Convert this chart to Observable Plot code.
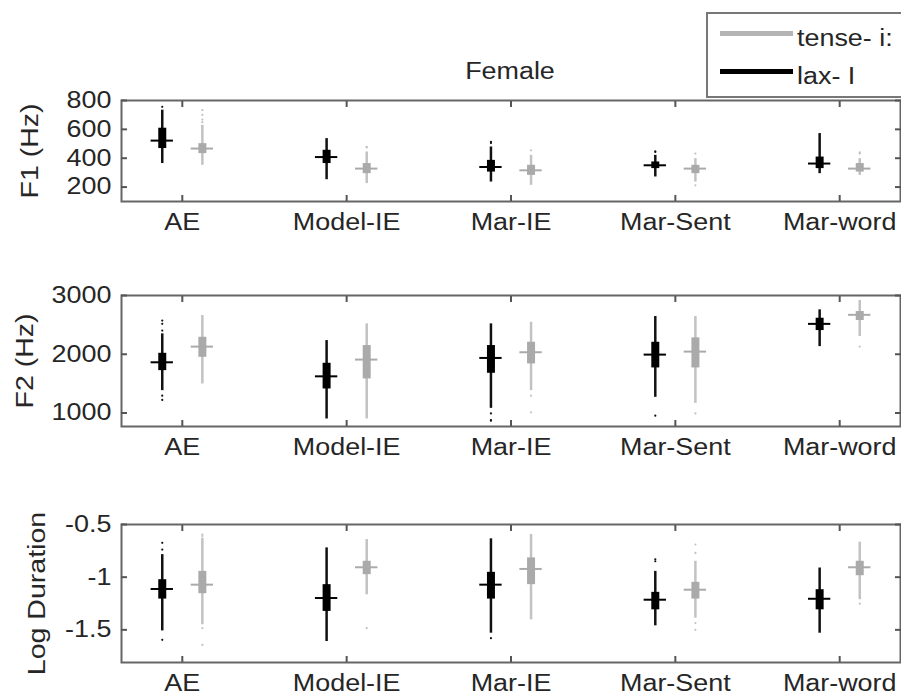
<!DOCTYPE html>
<html><head><meta charset="utf-8">
<script src="https://cdn.jsdelivr.net/npm/d3@7"></script>
<script src="https://cdn.jsdelivr.net/npm/@observablehq/plot@0.6"></script>
<style>
body{margin:0;background:#fff;}
#chart{position:relative;width:901px;height:698px;font-family:"Liberation Sans",Arial,sans-serif;}
#chart svg{position:absolute;left:0;}
</style></head><body><div id="chart"></div>
<script>
// ---- data ----
const groups = ["AE", "Model-IE", "Mar-IE", "Mar-Sent", "Mar-word"];
const seriesNames = ["tense- i:", "lax- I"];
const title = "Female";
const yLabels = ["F1 (Hz)", "F2 (Hz)", "Log Duration"];
const f1Ticks = [200, 400, 600, 800];
const f2Ticks = [1000, 2000, 3000];
const durTicks = [-1.5, -1, -0.5];
// each row: [lower whisker, q1, median, q3, upper whisker] per group
const f1Lax   = [[363,467,522,608,733],[251,363,408,455,536],[235,304,339,385,478],[270,328,351,374,420],[293,328,363,408,571]];
const f1Tense = [[351,432,467,501,628],[224,293,328,363,443],[212,281,316,351,420],[235,293,328,351,397],[281,304,328,363,397]];
// outliers: [group number, value]
const f1LaxOut   = [[1,756],[3,513],[3,505],[4,443],[4,448]];
const f1TenseOut = [[1,733],[1,700],[1,668],[1,650],[2,478],[2,475],[3,455],[4,432],[4,212],[5,432],[5,440]];
const f2Lax   = [[1380,1721,1863,2016,2347],[898,1409,1624,1846,2233],[1079,1676,1937,2148,2517],[1267,1767,1994,2204,2642],[2130,2403,2517,2613,2756]];
const f2Tense = [[1494,1948,2130,2289,2659],[898,1580,1909,2148,2517],[1380,1835,2034,2204,2545],[1164,1767,2045,2279,2642],[2301,2574,2671,2727,2915]];
const f2LaxOut   = [[1,2574],[1,2517],[1,2403],[1,1295],[1,1222],[3,993],[3,869],[3,880],[4,954]];
const f2TenseOut = [[3,1295],[3,1011],[4,993],[5,2130]];
const durLax   = [[-1.51,-1.208,-1.112,-1.024,-0.786],[-1.611,-1.325,-1.198,-1.071,-0.722],[-1.532,-1.208,-1.071,-0.954,-0.636],[-1.462,-1.31,-1.214,-1.144,-0.945],[-1.532,-1.31,-1.205,-1.119,-0.913]];
const durTense = [[-1.452,-1.157,-1.071,-0.945,-0.63],[-1.167,-0.976,-0.906,-0.849,-0.643],[-1.405,-1.071,-0.922,-0.817,-0.595],[-1.389,-1.208,-1.119,-1.049,-0.849],[-1.214,-0.986,-0.906,-0.849,-0.668]];
const durLaxOut   = [[1,-0.674],[1,-0.738],[1,-1.595],[3,-1.579],[4,-0.849],[4,-0.83]];
const durTenseOut = [[1,-0.595],[1,-0.61],[1,-1.484],[1,-1.643],[2,-1.484],[4,-0.69],[4,-0.77],[4,-1.436],[4,-1.5],[5,-1.252]];

// ---- styling ----
const FONT = '"Liberation Sans", Arial, sans-serif';
const TEXT = "#262626";
const STRETCH = 1.17;
const STRETCH_ROT = 1.24;
const offset = {"lax- I": -0.122, "tense- i:": 0.122};
const boxColor = {"lax- I": "#000000", "tense- i:": "#aaaaaa"};
const whiskColor = {"lax- I": "#111111", "tense- i:": "#c2c2c2"};

const toRows = (stats, series) => stats.map((s, i) => ({g: i + 1, series, lo: s[0], q1: s[1], med: s[2], q3: s[3], hi: s[4]}));
const outRows = (list, series) => list.map(([g, v]) => ({g, series, v}));
const px = d => d.g + offset[d.series];

function panel({lax, tense, laxOut, tenseOut, domain, ticks, label, labelDx, top, height, marginTop, marginBottom}) {
  const rows = [...toRows(tense, seriesNames[0]), ...toRows(lax, seriesNames[1])];
  const outs = [...outRows(tenseOut, seriesNames[0]), ...outRows(laxOut, seriesNames[1])];
  const gticks = groups.map((_, i) => i + 1);
  const svg = Plot.plot({
    width: 901, height, marginLeft: 121, marginRight: 1, marginTop, marginBottom,
    style: {fontFamily: FONT, fontSize: "23px", color: TEXT, background: "white", overflow: "visible"},
    x: {type: "linear", domain: [0.63, 5.37]},
    y: {domain},
    color: {type: "identity"},
    marks: [
      Plot.ruleX(rows, {x: px, y1: "lo", y2: "hi", stroke: d => whiskColor[d.series], strokeWidth: 2.5}),
      Plot.ruleX(rows, {x: px, y1: "q1", y2: "q3", stroke: d => boxColor[d.series], strokeWidth: 8}),
      Plot.ruleY(rows, {y: "med", x1: d => px(d) - 0.068, x2: d => px(d) + 0.068, stroke: d => boxColor[d.series], strokeWidth: 2}),
      Plot.dot(outs, {x: px, y: "v", r: 1.1, fill: d => whiskColor[d.series], stroke: null}),
      Plot.frame({stroke: "#666", strokeWidth: 2}),
      Plot.axisX(gticks, {anchor: "top", tickSize: -6, fill: "none", stroke: "#555", strokeWidth: 2, label: null}),
      Plot.axisX(gticks, {anchor: "bottom", tickSize: -6, fill: "none", stroke: "#555", strokeWidth: 2, label: null}),
      Plot.axisX(gticks, {anchor: "bottom", tickSize: 0, tickPadding: 12, tickFormat: i => groups[i - 1], fill: TEXT, label: null}),
      Plot.axisY(ticks, {anchor: "left", tickSize: -6, fill: "none", stroke: "#555", strokeWidth: 2, label: null}),
      Plot.axisY(ticks, {anchor: "right", tickSize: -6, fill: "none", stroke: "#555", strokeWidth: 2, label: null}),
      Plot.axisY(ticks, {anchor: "left", tickSize: 0, tickPadding: 10, tickFormat: d => String(d), fill: TEXT, label: null}),
      Plot.text([label], {text: d => d, frameAnchor: "left", dx: labelDx, rotate: -90, fill: TEXT, fontSize: 23})
    ]
  });
  svg.style.top = top + "px";
  return svg;
}

const chart = document.getElementById("chart");
chart.append(panel({lax: f1Lax, tense: f1Tense, laxOut: f1LaxOut, tenseOut: f1TenseOut, domain: [100, 800], ticks: f1Ticks, label: yLabels[0], labelDx: -91, top: 0, height: 245, marginTop: 100, marginBottom: 44}));
chart.append(panel({lax: f2Lax, tense: f2Tense, laxOut: f2LaxOut, tenseOut: f2TenseOut, domain: [770, 3000], ticks: f2Ticks, label: yLabels[1], labelDx: -96, top: 250, height: 220, marginTop: 45, marginBottom: 44}));
chart.append(panel({lax: durLax, tense: durTense, laxOut: durLaxOut, tenseOut: durTenseOut, domain: [-1.81, -0.5], ticks: durTicks, label: yLabels[2], labelDx: -84, top: 470, height: 228, marginTop: 54, marginBottom: 36}));

// title + legend overlay
const head = d3.create("svg").attr("width", 901).attr("height", 99).style("top", "0px")
  .style("font-family", FONT).style("font-size", "23px");
head.append("text").attr("x", 510).attr("y", 79).attr("text-anchor", "middle").attr("fill", TEXT).text(title);
const lg = head.append("g");
lg.append("rect").attr("x", 707).attr("y", 13).attr("width", 220).attr("height", 84)
  .attr("fill", "white").attr("stroke", "#777").attr("stroke-width", 2);
const legendY = [33.5, 71.5];
const legendStroke = ["#b4b4b4", boxColor[seriesNames[1]]];
seriesNames.forEach((name, i) => {
  lg.append("line").attr("x1", 720).attr("x2", 793).attr("y1", legendY[i]).attr("y2", legendY[i])
    .attr("stroke", legendStroke[i]).attr("stroke-width", 5);
  lg.append("text").attr("x", 797).attr("y", legendY[i] + 12).attr("fill", TEXT).text(name);
});
chart.append(head.node());

// widen glyphs to mimic the reference's wide rendering
document.querySelectorAll("#chart svg text").forEach(t => {
  const len = t.getComputedTextLength();
  if (!(len > 0)) return;
  const tr = t.getAttribute("transform") || "";
  const rotated = tr.includes("rotate");
  const L = len * (rotated ? STRETCH_ROT : STRETCH);
  if (rotated) {
    // re-anchor explicitly so the stretched rotated label stays centered
    t.setAttribute("text-anchor", "start");
    t.style.textAnchor = "start";
    t.setAttribute("x", (-L / 2).toFixed(1));
  }
  t.setAttribute("textLength", L.toFixed(1));
  t.setAttribute("lengthAdjust", "spacingAndGlyphs");
});
</script></body></html>
